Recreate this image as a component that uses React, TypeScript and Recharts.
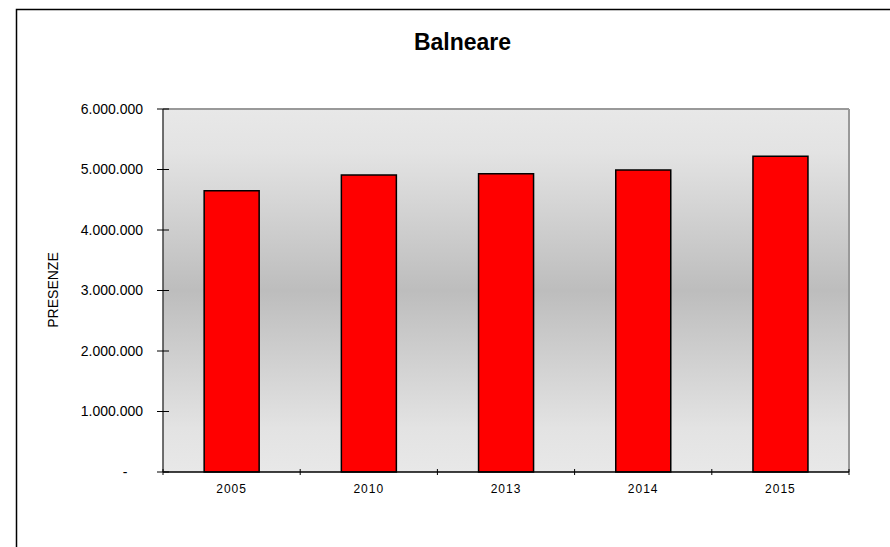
import React from 'react';
import { BarChart, Bar, XAxis, YAxis, CartesianGrid } from 'recharts';

const years = ['2005', '2010', '2013', '2014', '2015'];
const presenze = [4650000, 4910000, 4930000, 4990000, 5220000];
const yTicks = [0, 1000000, 2000000, 3000000, 4000000, 5000000, 6000000];

const data = years.map((year, i) => ({ year, presenze: presenze[i] }));

const FONT = '"Liberation Sans", Arial, sans-serif';

const formatIt = (v: number) => v.toString().replace(/\B(?=(\d{3})+(?!\d))/g, '.');

const YTick = (props: any) => {
  const { x, y, payload } = props;
  return (
    <g>
      <line x1={x - 6} x2={x + 6} y1={y} y2={y} stroke="#000" strokeWidth={1} />
      {payload.value === 0 ? (
        <text x={x - 38} y={y} dy="0.35em" textAnchor="middle" fontSize={14} fill="#000" fontFamily={FONT}>-</text>
      ) : (
        <text x={x - 20} y={y} dy="0.35em" textAnchor="end" fontSize={14} fill="#000" fontFamily={FONT}>
          {formatIt(payload.value)}
        </text>
      )}
    </g>
  );
};

const XTick = (props: any) => {
  const { x, y, payload, index } = props;
  const off = payload.offset || 0;
  const last = index === years.length - 1;
  return (
    <g>
      <line x1={x - off} x2={x - off} y1={y - 3} y2={y + 3} stroke="#000" />
      {last && <line x1={x + off} x2={x + off} y1={y - 3} y2={y + 3} stroke="#000" />}
      <text x={x} y={y + 17} dy="0.35em" textAnchor="middle" fontSize={12} letterSpacing={1} fill="#000" fontFamily={FONT}>
        {payload.value}
      </text>
    </g>
  );
};

export default function App() {
  return (
    <div style={{ position: 'absolute', left: 0, top: 0, width: 890, height: 547, overflow: 'hidden', background: '#fff' }}>
      <BarChart
        width={890}
        height={547}
        data={data}
        margin={{ top: 109, right: 41, bottom: 45, left: 63 }}
        barCategoryGap="30%"
      >
        <defs>
          <linearGradient id="plotBg" x1="0" y1="0" x2="0" y2="1">
            <stop offset="0%" stopColor="#e8e8e8" />
            <stop offset="12%" stopColor="#e3e3e3" />
            <stop offset="50%" stopColor="#bdbdbd" />
            <stop offset="88%" stopColor="#e3e3e3" />
            <stop offset="100%" stopColor="#e8e8e8" />
          </linearGradient>
        </defs>
        <CartesianGrid
          fill="url(#plotBg)"
          stroke="#999"
          strokeWidth={2}
          horizontalPoints={[109]}
          verticalPoints={[849]}
        />
        <XAxis
          dataKey="year"
          height={30}
          tickSize={0}
          tickMargin={0}
          tickLine={false}
          axisLine={{ stroke: '#000', strokeWidth: 1.5 }}
          tick={<XTick />}
          interval={0}
        />
        <YAxis
          width={100}
          domain={[0, 6000000]}
          ticks={yTicks}
          tickSize={0}
          tickMargin={0}
          tickLine={false}
          axisLine={{ stroke: '#404040', strokeWidth: 1.5 }}
          tick={<YTick />}
          interval={0}
        />
        <Bar dataKey="presenze" fill="#ff0000" stroke="#000" strokeWidth={1.5} isAnimationActive={false} />
      </BarChart>
      <svg width={890} height={547} style={{ position: 'absolute', left: 0, top: 0, pointerEvents: 'none' }}>
        <rect x={16.5} y={9.5} width={900} height={600} fill="none" stroke="#000" strokeWidth={1.5} />
        <text x={462.5} y={50} textAnchor="middle" fontSize={23} fontWeight="bold" fill="#000" fontFamily={FONT}>
          Balneare
        </text>
        <text
          x={53}
          y={290}
          dy="0.35em"
          textAnchor="middle"
          fontSize={14}
          fill="#000"
          fontFamily={FONT}
          transform="rotate(-90 53 290)"
        >
          PRESENZE
        </text>
      </svg>
    </div>
  );
}
